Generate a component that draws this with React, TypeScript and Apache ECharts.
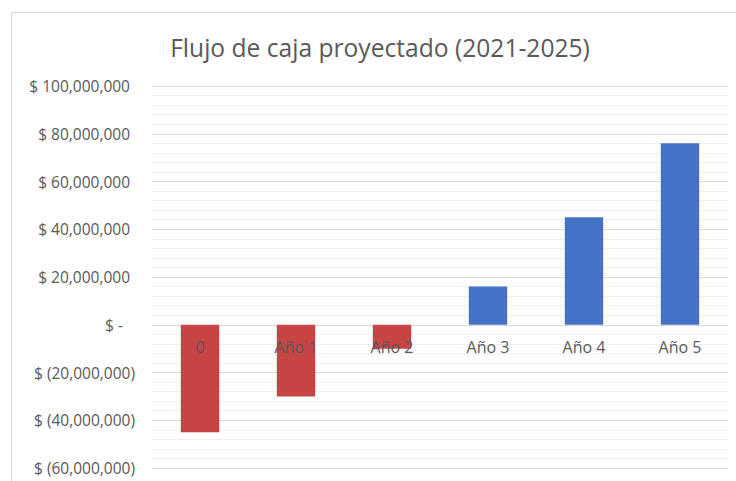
import React, { useEffect, useRef } from "react";
import * as echarts from "echarts";

const categories = ["0", "Año 1", "Año 2", "Año 3", "Año 4", "Año 5"];
const flujo = [-45000000, -30000000, -10000000, 16000000, 45000000, 76000000];
const titleText = "Flujo de caja proyectado (2021-2025)";

const RED = "#C64444";
const BLUE = "#4472C4";
const FONT = "'Open Sans', 'Noto Sans', sans-serif";

function fmtAccounting(v: number): string {
  if (v === 0) return "{z|$ -}";
  const s = Math.abs(v).toLocaleString("en-US");
  if (v < 0) return "{n|$ (" + s + ")}";
  return "{p|$ " + s + "}";
}

export default function App() {
  const ref = useRef<HTMLDivElement>(null);
  useEffect(() => {
    if (!ref.current) return;
    const chart = echarts.init(ref.current, undefined, { renderer: "svg" });
    chart.setOption({
      animation: false,
      backgroundColor: "#ffffff",
      title: {
        text: titleText,
        left: 375,
        top: 30,
        textAlign: "center",
        textStyle: {
          fontFamily: FONT,
          fontSize: 24.6,
          fontWeight: "normal",
          color: "#595959",
        },
      },
      graphic: [
        {
          type: "rect",
          shape: { x: 11.5, y: 12.5, width: 800, height: 600 },
          style: { fill: "none", stroke: "#d9d9d9", lineWidth: 1 },
          silent: true,
        },
      ],
      grid: {
        left: 152,
        right: 8,
        top: 86,
        bottom: 13,
        containLabel: false,
        outerBoundsMode: "none",
      },
      xAxis: {
        type: "category",
        data: categories,
        z: 10,
        offset: -143,
        axisLine: { show: false, onZero: false },
        axisTick: { show: false },
        axisLabel: {
          color: "#595959",
          fontFamily: FONT,
          fontSize: 16,
          margin: 14,
        },
        splitLine: { show: false },
      },
      yAxis: {
        type: "value",
        min: -60000000,
        max: 100000000,
        interval: 20000000,
        axisLine: { show: false },
        axisTick: { show: false },
        axisLabel: {
          formatter: (v: number) => fmtAccounting(v),
          margin: 17,
          rich: {
            p: { color: "#595959", fontFamily: FONT, fontSize: 15.5, padding: [0, 5, 0, 0] },
            n: { color: "#595959", fontFamily: FONT, fontSize: 15.5 },
            z: { color: "#595959", fontFamily: FONT, fontSize: 15.5, padding: [0, 12, 0, 0] },
          },
        },
        splitLine: { show: true, lineStyle: { color: "#d9d9d9", width: 1 } },
        minorTick: { show: false, splitNumber: 5 },
        minorSplitLine: { show: true, lineStyle: { color: "#f0f0f0", width: 1 } },
      },
      series: [
        {
          type: "bar",
          data: flujo.map((v) => ({
            value: v,
            itemStyle: { color: v < 0 ? RED : BLUE },
          })),
          barWidth: "40%",
        },
      ],
    });
    return () => chart.dispose();
  }, []);
  return (
    <div
      ref={ref}
      style={{ position: "fixed", left: 0, top: 0, width: 736, height: 481 }}
    />
  );
}
